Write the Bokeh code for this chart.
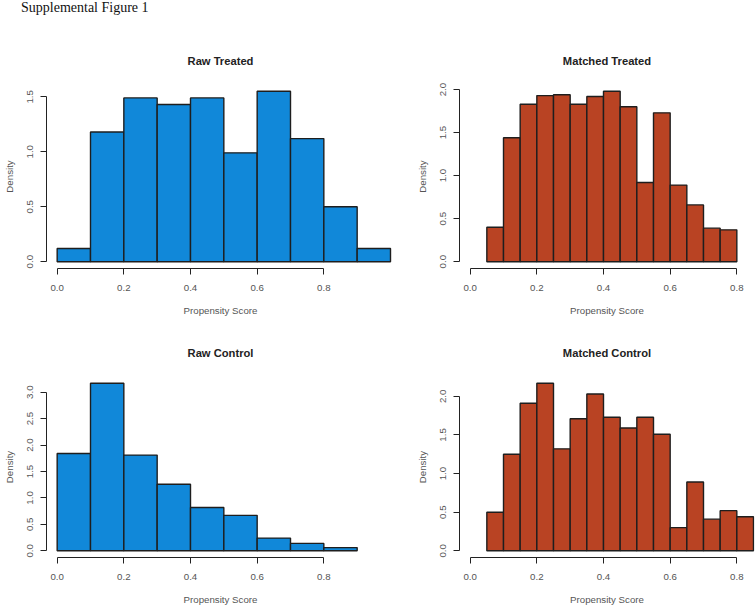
from bokeh.plotting import figure
from bokeh.layouts import gridplot, column
from bokeh.models import FixedTicker, PrintfTickFormatter, Range1d, Div
from bokeh.embed import file_html
from bokeh.resources import INLINE

# ---------------- data (densities) ----------------
raw_treated_breaks = [0.0, 0.1, 0.2, 0.3, 0.4, 0.5, 0.6, 0.7, 0.8, 0.9, 1.0]
raw_treated_density = [0.12, 1.18, 1.49, 1.43, 1.49, 0.99, 1.55, 1.12, 0.50, 0.12]

matched_treated_breaks = [0.05, 0.10, 0.15, 0.20, 0.25, 0.30, 0.35, 0.40,
                          0.45, 0.50, 0.55, 0.60, 0.65, 0.70, 0.75, 0.80]
matched_treated_density = [0.40, 1.44, 1.83, 1.93, 1.94, 1.83, 1.92, 1.98,
                           1.80, 0.92, 1.73, 0.89, 0.66, 0.39, 0.37]

raw_control_breaks = [0.0, 0.1, 0.2, 0.3, 0.4, 0.5, 0.6, 0.7, 0.8, 0.9]
raw_control_density = [1.84, 3.17, 1.81, 1.26, 0.82, 0.67, 0.24, 0.14, 0.06]

matched_control_breaks = [0.05, 0.10, 0.15, 0.20, 0.25, 0.30, 0.35, 0.40,
                          0.45, 0.50, 0.55, 0.60, 0.65, 0.70, 0.75, 0.80, 0.85]
matched_control_density = [0.50, 1.25, 1.91, 2.17, 1.32, 1.71, 2.03, 1.73,
                           1.59, 1.73, 1.51, 0.30, 0.89, 0.41, 0.52, 0.44]

x_ticks = [0.0, 0.2, 0.4, 0.6, 0.8]
y_ticks_raw_treated = [0.0, 0.5, 1.0, 1.5]
y_ticks_matched_treated = [0.0, 0.5, 1.0, 1.5, 2.0]
y_ticks_raw_control = [0.0, 0.5, 1.0, 1.5, 2.0, 2.5, 3.0]
y_ticks_matched_control = [0.0, 0.5, 1.0, 1.5, 2.0]

BLUE = "#1188d9"
RUST = "#b94323"
SANS = "Liberation Sans"


def panel(title, breaks, dens, yticks, color, width, height, x_end,
          b_left, b_right, b_top, b_bottom):
    ymax = max(dens)
    p = figure(width=width, height=height, output_backend="svg",
               toolbar_location=None, tools="",
               min_border_left=b_left, min_border_right=b_right,
               min_border_top=b_top, min_border_bottom=b_bottom,
               x_range=Range1d(-0.04 * 0.8, x_end),
               y_range=Range1d(-0.04 * ymax, 1.04 * ymax))
    p.quad(left=breaks[:-1], right=breaks[1:], bottom=0, top=dens,
           fill_color=color, line_color="#1e1e1e", line_width=1.4)
    p.outline_line_color = None
    p.xgrid.visible = False
    p.ygrid.visible = False
    p.background_fill_color = "white"
    p.border_fill_color = "white"

    p.title.text = title
    p.title.align = "center"
    p.title.text_font = SANS
    p.title.text_font_style = "bold"
    p.title.text_font_size = "11.2px"
    p.title.text_color = "#222222"
    p.title.standoff = 35

    for ax, ticks in ((p.xaxis[0], x_ticks), (p.yaxis[0], yticks)):
        ax.ticker = FixedTicker(ticks=ticks)
        ax.formatter = PrintfTickFormatter(format="%.1f")
        ax.bounds = (ticks[0], ticks[-1])
        ax.axis_line_color = "#222222"
        ax.axis_line_width = 1
        ax.major_tick_line_color = "#222222"
        ax.major_tick_out = 6
        ax.major_tick_in = 0
        ax.minor_tick_line_color = None
        ax.major_label_text_font = SANS
        ax.major_label_text_font_size = "9.7px"
        ax.major_label_text_color = "#555555"
        ax.axis_label_text_font = SANS
        ax.axis_label_text_font_size = "9.7px"
        ax.axis_label_text_font_style = "normal"
        ax.axis_label_text_color = "#555555"

    p.xaxis.axis_label = "Propensity Score"
    p.xaxis.major_label_standoff = 10
    p.xaxis.axis_label_standoff = 11
    p.yaxis.axis_label = "Density"
    p.yaxis.major_label_orientation = "vertical"
    p.yaxis.major_label_standoff = 7
    p.yaxis.axis_label_standoff = 10
    return p


LW, RW = 400, 355
TH, BH = 306, 281

a = panel("Raw Treated", raw_treated_breaks, raw_treated_density,
          y_ticks_raw_treated, BLUE, LW, TH, 1.012, 46, 6, 64, 58)
b = panel("Matched Treated", matched_treated_breaks, matched_treated_density,
          y_ticks_matched_treated, RUST, RW, TH, 0.853, 59, 1, 64, 58)
c = panel("Raw Control", raw_control_breaks, raw_control_density,
          y_ticks_raw_control, BLUE, LW, BH, 1.012, 46, 6, 50, 47)
d = panel("Matched Control", matched_control_breaks, matched_control_density,
          y_ticks_matched_control, RUST, RW, BH, 0.853, 59, 1, 50, 47)

head = Div(text='<div style="font-family: \'Liberation Serif\', serif; font-size: 14px; '
                'line-height: 14px; color: #111; padding-left: 21px; padding-top: 1px;">'
                'Supplemental Figure 1</div>',
           width=755, height=20, margin=(0, 0, 0, 0))

grid = gridplot([[a, b], [c, d]], toolbar_location=None)
layout = column(head, grid)

open("out.html", "w").write(file_html(layout, INLINE))
